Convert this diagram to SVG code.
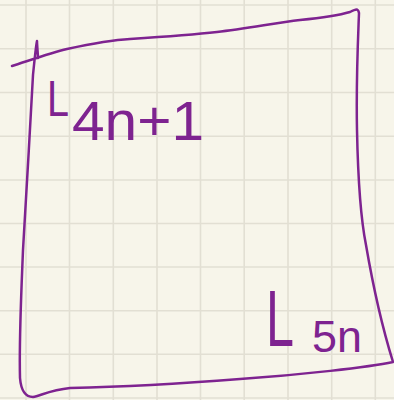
<svg xmlns="http://www.w3.org/2000/svg" width="394" height="400" viewBox="0 0 394 400">
<style>
.g{stroke:#e2dfd3;stroke-width:1.6}
.ink{fill:none;stroke:#7e2390;stroke-width:2.5;stroke-linecap:round;stroke-linejoin:round}
.t{fill:#7e2390;font-family:"Liberation Sans",Arial,sans-serif}
</style>
<rect width="394" height="400" fill="#f7f5ea"/>
<g id="grid">
<path class="g" d="M26 0V400M69.5 0V400M113.3 0V400M157 0V400M200.5 0V400M244.2 0V400M288 0V400M331.7 0V400M375.3 0V400"/>
<path class="g" d="M0 5H394M0 48.8H394M0 92.5H394M0 136.2H394M0 180H394M0 223.5H394M0 267H394M0 310.7H394M0 354.3H394M0 398H394"/>
</g>
<g id="box">
<path class="ink" d="M12 66 C25 62 50 53 67 49 C90 44 110 40 130 39 C160 37 190 35 217 32 C245 29 275 23 300 20 C320 18 340 15 350 12 C356 9 358 8 359 13 C358 40 356 80 357 130 C358 180 361 220 366 245 C372 280 380 320 393 362 C370 367 300 375 240 379 C190 383 120 387 70 388 C50 390 40 396 33 397 C25 397 21 390 20 378 C19 340 21 300 23 250 C26 200 30 130 33 75 C35 55 36 45 37 41 C37 45 38 55 38 58"/>
</g>
<g id="label1">
<text class="t" x="47" y="116" font-size="50" textLength="22" lengthAdjust="spacingAndGlyphs">L</text>
<text class="t" x="72" y="140" font-size="56" textLength="132" lengthAdjust="spacingAndGlyphs">4n+1</text>
</g>
<g id="label2">
<text class="t" x="266" y="346" font-size="80" textLength="28" lengthAdjust="spacingAndGlyphs">L</text>
<text class="t" x="312" y="352" font-size="44" textLength="50" lengthAdjust="spacingAndGlyphs">5n</text>
</g>
</svg>
